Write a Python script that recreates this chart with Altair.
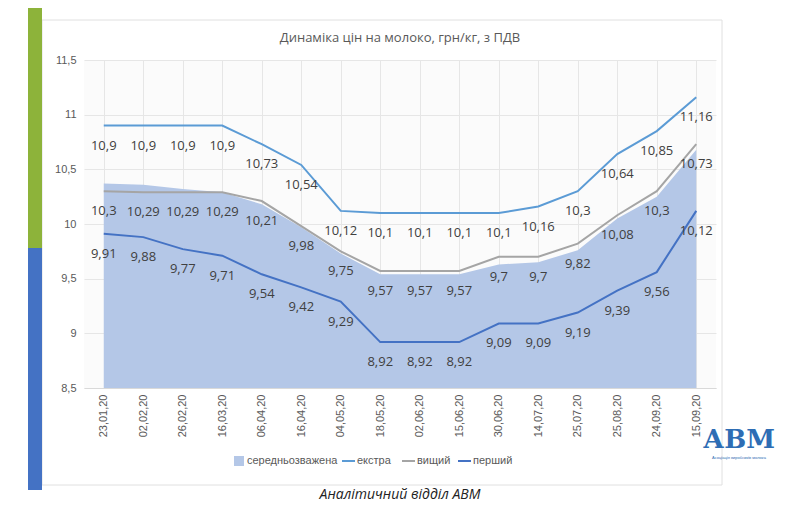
import altair as alt
import pandas as pd

dates = ["23,01,20","02,02,20","26,02,20","16,03,20","06,04,20","16,04,20","04,05,20","18,05,20",
         "02,06,20","15,06,20","30,06,20","14,07,20","25,07,20","25,08,20","24,09,20","15,09,20"]
avg = [10.37,10.36,10.32,10.29,10.18,9.97,9.73,9.54,9.54,9.54,9.63,9.65,9.76,10.05,10.25,10.68]
extra = [10.9,10.9,10.9,10.9,10.73,10.54,10.12,10.1,10.1,10.1,10.1,10.16,10.3,10.64,10.85,11.16]
vyshchyi = [10.3,10.29,10.29,10.29,10.21,9.98,9.75,9.57,9.57,9.57,9.7,9.7,9.82,10.08,10.3,10.73]
pershyi = [9.91,9.88,9.77,9.71,9.54,9.42,9.29,8.92,8.92,8.92,9.09,9.09,9.19,9.39,9.56,10.12]

series = {"екстра": extra, "вищий": vyshchyi, "перший": pershyi}
colors = {"екстра": "#5B9BD5", "вищий": "#A5A5A5", "перший": "#4472C4"}

rows = []
for name, vals in series.items():
    for d, v in zip(dates, vals):
        rows.append({"date": d, "v": v, "s": name, "lab": str(v).replace(".", ",")})
lines_df = pd.DataFrame(rows)
area_df = pd.DataFrame({"date": dates, "v": avg, "base": [8.5] * len(dates)})

W, H = 632, 328
X = alt.X("date:N", sort=dates, title=None,
          axis=alt.Axis(labelAngle=270, labelColor="#595959", labelFontSize=11, labelPadding=6,
                        grid=True, gridColor="#e6e6e6", ticks=False, domainColor="#d9d9d9",
                        bandPosition=0, labelFont="Liberation Sans"))
Y = alt.Y("v:Q", scale=alt.Scale(domain=[8.5, 11.5], nice=False), title=None,
          axis=alt.Axis(values=[8.5,9,9.5,10,10.5,11,11.5], labelExpr="replace(toString(datum.value), '.', ',')",
                        labelColor="#595959", labelFontSize=11, gridColor="#e6e6e6", domain=False, ticks=False,
                        labelPadding=8))

one = pd.DataFrame({"a": [0]})
deco = []
deco.append(alt.Chart(one).mark_rect(fill=None, stroke="#e0e0e0").encode(
    x=alt.value(-42), x2=alt.value(638), y=alt.value(-40), y2=alt.value(425)))
deco.append(alt.Chart(one).mark_rect(color="#8DB33A").encode(
    x=alt.value(-56), x2=alt.value(-42), y=alt.value(-60), y2=alt.value(188)))
deco.append(alt.Chart(one).mark_rect(color="#4472C4").encode(
    x=alt.value(-56), x2=alt.value(-42), y=alt.value(188), y2=alt.value(430)))
deco.append(alt.Chart(one).mark_text(text="Динаміка цін на молоко, грн/кг, з ПДВ", fontSize=13,
    color="#595959", font="Open Sans").encode(x=alt.value(316), y=alt.value(-22)))
deco.append(alt.Chart(one).mark_text(text="Аналітичний відділ АВМ", fontSize=14, fontStyle="italic",
    color="#222222", font="Open Sans").encode(x=alt.value(316), y=alt.value(435)))
deco.append(alt.Chart(one).mark_text(text="АВМ", fontSize=26, fontWeight="bold", color="#2E6DB4",
    font="DejaVu Serif").encode(x=alt.value(655), y=alt.value(380)))
deco.append(alt.Chart(one).mark_text(text="Асоціація виробників молока", fontSize=4, color="#2E6DB4").encode(
    x=alt.value(655), y=alt.value(398)))

leg = []
leg.append(alt.Chart(one).mark_rect(color="#B4C7E7").encode(
    x=alt.value(150), x2=alt.value(160), y=alt.value(396), y2=alt.value(406)))
leg.append(alt.Chart(one).mark_text(text="середньозважена", align="left", fontSize=11, color="#595959").encode(
    x=alt.value(163), y=alt.value(401)))
for nm, x0 in [("екстра", 258), ("вищий", 318), ("перший", 374)]:
    leg.append(alt.Chart(one).mark_rule(color=colors[nm], strokeWidth=2).encode(
        x=alt.value(x0), x2=alt.value(x0 + 13), y=alt.value(401)))
    leg.append(alt.Chart(one).mark_text(text=nm, align="left", fontSize=11, color="#595959").encode(
        x=alt.value(x0 + 15), y=alt.value(401)))

area = alt.Chart(area_df).mark_area(color="#B4C7E7", opacity=1).encode(x=X, y=Y, y2="base:Q")
lines = alt.Chart(lines_df).mark_line(strokeWidth=2).encode(
    x=X, y=Y, color=alt.Color("s:N", scale=alt.Scale(domain=list(colors), range=list(colors.values())), legend=None))
labels = alt.Chart(lines_df).mark_text(dy=20, fontSize=13, color="#404040", font="Open Sans").encode(
    x=X, y=Y, text="lab:N")

chart = alt.layer(*deco, area, lines, labels, *leg).properties(
    width=W, height=H, autosize=alt.AutoSizeParams(type="none"),
    padding={"left": 76, "top": 52, "right": 76, "bottom": 119}, background="#ffffff"
).configure_view(stroke=None, fill="#fbfbfb")

chart.save("out.html", embed_options={"renderer": "svg", "actions": False})
